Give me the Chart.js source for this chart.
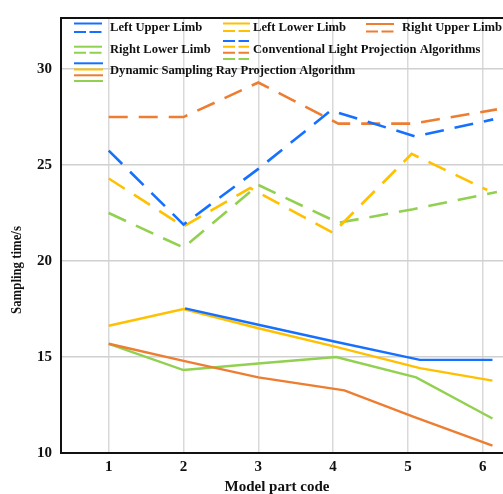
<!DOCTYPE html>
<html>
<head>
<meta charset="utf-8">
<script src="https://cdn.jsdelivr.net/npm/chart.js@4"></script>
<style>
  html, body { margin: 0; padding: 0; overflow: hidden; background: #fff; }
  #wrap { width: 540px; height: 494px; }
</style>
</head>
<body>
<div id="wrap"><canvas id="samplingChart" width="540" height="494"></canvas></div>
<script>
// Model part codes (x tick labels)
var partCodes = [1, 2, 3, 4, 5, 6];
var yTicks = [10, 15, 20, 25, 30];

// Conventional light projection algorithms (dashed)
var convLeftUpperX = [1, 2, 3, 3.97, 5.1, 6.14];
var convLeftUpperY = [25.75, 21.9, 24.8, 27.84, 26.49, 27.38];
var convLeftLowerX = [1, 2, 2.89, 4.0, 5.05, 6.06];
var convLeftLowerY = [24.3, 21.8, 23.8, 21.47, 25.58, 23.7];
var convRightUpperX = [1, 2, 3, 4.07, 5.07, 6.19];
var convRightUpperY = [27.5, 27.5, 29.3, 27.16, 27.16, 27.9];
var convRightLowerX = [1, 2, 3, 4.07, 5.07, 6.19];
var convRightLowerY = [22.5, 20.7, 23.96, 21.99, 22.7, 23.6];

// Dynamic sampling ray projection algorithm (solid)
var dynLeftUpperX = [2.02, 3, 4, 5.16, 6.13];
var dynLeftUpperY = [17.53, 16.68, 15.82, 14.85, 14.85];
var dynLeftLowerX = [1, 2, 3, 4, 5.16, 6.13];
var dynLeftLowerY = [16.63, 17.5, 16.5, 15.57, 14.42, 13.77];
var dynRightUpperX = [1, 2, 3, 4.15, 5.07, 6.13];
var dynRightUpperY = [15.69, 14.8, 13.94, 13.26, 11.9, 10.38];
var dynRightLowerX = [1, 2, 3, 4.04, 5.11, 6.13];
var dynRightLowerY = [15.69, 14.32, 14.66, 15.0, 13.94, 11.8];

var BLUE = '#1670ff';
var YELLOW = '#ffc000';
var ORANGE = '#ed7d31';
var GREEN = '#92d050';
var FONT = "'Liberation Serif', 'Times New Roman', serif";

function pts(xs, ys) {
    return xs.map(function(x, i) { return { x: x, y: ys[i] }; });
}

function line(xs, ys, color, dashed) {
    return {
        data: pts(xs, ys),
        borderColor: color,
        backgroundColor: color,
        borderWidth: dashed ? 2.6 : 2.4,
        borderDash: dashed ? [19, 11] : [],
        borderCapStyle: 'butt',
        pointRadius: 0,
        tension: 0,
        fill: false
    };
}

// legend, frame and axis titles drawn by hand
var decorPlugin = {
    id: 'decor',
    afterDraw: function(chart) {
        var ctx = chart.ctx;
        var a = chart.chartArea;
        ctx.save();
        // frame
        ctx.strokeStyle = '#111';
        ctx.lineWidth = 2;
        ctx.strokeRect(a.left, a.top, a.right - a.left, a.bottom - a.top);

        function seg(x1, x2, y, color, dashed) {
            ctx.beginPath();
            ctx.strokeStyle = color;
            ctx.lineWidth = 2;
            ctx.setLineDash(dashed ? [12, 3.5] : []);
            ctx.moveTo(x1, y);
            ctx.lineTo(x2, y);
            ctx.stroke();
        }
        function label(text, x, y) {
            ctx.setLineDash([]);
            ctx.fillStyle = '#111';
            ctx.font = 'bold 12.6px ' + FONT;
            ctx.textAlign = 'left';
            ctx.textBaseline = 'middle';
            ctx.fillText(text, x, y);
        }

        // row 1
        seg(74, 102, 23.5, BLUE, false); seg(74, 102, 32, BLUE, true);
        label('Left Upper Limb', 110, 28);
        seg(223, 250, 23.5, YELLOW, false); seg(223, 250, 31, YELLOW, true);
        label('Left Lower Limb', 253, 28);
        seg(366, 394, 24, ORANGE, false); seg(366, 394, 31.5, ORANGE, true);
        label('Right Upper Limb', 402, 28);
        // row 2
        seg(74, 102, 46.7, GREEN, false); seg(74, 102, 52.7, GREEN, true);
        label('Right Lower Limb', 110, 50);
        seg(223, 249, 41, BLUE, true); seg(223, 249, 46.7, YELLOW, true);
        seg(223, 249, 52.7, ORANGE, true); seg(223, 249, 59, GREEN, true);
        label('Conventional Light Projection Algorithms', 253, 50);
        // row 3
        seg(74, 103, 63.3, BLUE, false); seg(74, 103, 69.5, YELLOW, false);
        seg(74, 103, 75.3, ORANGE, false); seg(74, 103, 81, GREEN, false);
        label('Dynamic Sampling Ray Projection Algorithm', 110, 71);

        // axis titles
        ctx.setLineDash([]);
        ctx.fillStyle = '#111';
        ctx.textAlign = 'center';
        ctx.textBaseline = 'middle';
        ctx.font = 'bold 15px ' + FONT;
        ctx.fillText('Model part code', 277, 487);
        ctx.translate(17, 270);
        ctx.rotate(-Math.PI / 2);
        ctx.scale(1, 1.2);
        ctx.font = 'bold 12.8px ' + FONT;
        ctx.fillText('Sampling time/s', 0, 0);
        ctx.restore();
    }
};

document.addEventListener('DOMContentLoaded', function() {
    var ctx = document.getElementById('samplingChart');
    new Chart(ctx, {
        type: 'line',
        data: {
            datasets: [
                line(convLeftUpperX, convLeftUpperY, BLUE, true),
                line(convLeftLowerX, convLeftLowerY, YELLOW, true),
                line(convRightUpperX, convRightUpperY, ORANGE, true),
                line(convRightLowerX, convRightLowerY, GREEN, true),
                line(dynRightUpperX, dynRightUpperY, ORANGE, false),
                line(dynRightLowerX, dynRightLowerY, GREEN, false),
                line(dynLeftUpperX, dynLeftUpperY, BLUE, false),
                line(dynLeftLowerX, dynLeftLowerY, YELLOW, false)
            ]
        },
        options: {
            responsive: false,
            animation: false,
            devicePixelRatio: 1,
            layout: { padding: { top: 12, right: 10, bottom: 0, left: 0 } },
            plugins: {
                legend: { display: false },
                tooltip: { enabled: false }
            },
            scales: {
                x: {
                    type: 'linear',
                    min: 0.362,
                    max: 6.632,
                    afterFit: function(scale) { scale.height = 41; },
                    afterBuildTicks: function(scale) {
                        scale.ticks = partCodes.map(function(v) { return { value: v }; });
                    },
                    ticks: {
                        color: '#111',
                        padding: 5,
                        font: { family: FONT, size: 15, weight: 'bold' }
                    },
                    grid: { color: '#d9d9d9', lineWidth: 1.5, drawTicks: false },
                    border: { display: false }
                },
                y: {
                    min: 10,
                    max: 32.66,
                    afterFit: function(scale) { scale.width = 61; },
                    afterBuildTicks: function(scale) {
                        scale.ticks = yTicks.map(function(v) { return { value: v }; });
                    },
                    ticks: {
                        color: '#111',
                        padding: 9,
                        font: { family: FONT, size: 15, weight: 'bold' }
                    },
                    grid: { color: '#d0d0d0', lineWidth: 1.5, drawTicks: false },
                    border: { display: false }
                }
            }
        },
        plugins: [decorPlugin]
    });
});
</script>
</body>
</html>
